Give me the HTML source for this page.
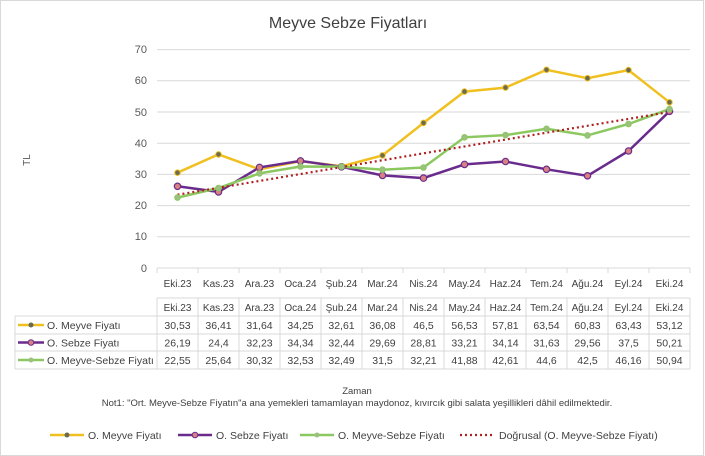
<!DOCTYPE html><html><head><meta charset="utf-8"><style>body{margin:0;background:#fff}svg{display:block;font-family:"Liberation Sans",sans-serif}</style></head><body>
<svg width="705" height="456" viewBox="0 0 705 456">
<rect x="0.5" y="0.5" width="703" height="455" fill="#fff" stroke="#d9d9d9"/>
<text x="348" y="28" font-size="16" fill="#404040" text-anchor="middle">Meyve Sebze Fiyatları</text>
<g stroke="#d9d9d9" stroke-width="1">
<line x1="157" x2="690" y1="49.6" y2="49.6"/><line x1="157" x2="690" y1="80.8" y2="80.8"/><line x1="157" x2="690" y1="112" y2="112"/><line x1="157" x2="690" y1="143.2" y2="143.2"/><line x1="157" x2="690" y1="174.4" y2="174.4"/><line x1="157" x2="690" y1="205.6" y2="205.6"/><line x1="157" x2="690" y1="236.8" y2="236.8"/><line x1="157" x2="690" y1="268" y2="268"/>
</g>
<g font-size="11" fill="#595959" text-anchor="end">
<text x="147" y="53">70</text><text x="147" y="84">60</text><text x="147" y="116">50</text><text x="147" y="147">40</text><text x="147" y="178">30</text><text x="147" y="209">20</text><text x="147" y="240">10</text><text x="147" y="272">0</text></g>
<text x="30" y="160" font-size="10" fill="#595959" transform="rotate(-90 30 160)" text-anchor="middle">TL</text>
<g font-size="10" fill="#404040" text-anchor="middle">
<text x="177.5" y="287">Eki.23</text><text x="218.5" y="287">Kas.23</text><text x="259.5" y="287">Ara.23</text><text x="300.5" y="287">Oca.24</text><text x="341.5" y="287">Şub.24</text><text x="382.5" y="287">Mar.24</text><text x="423.5" y="287">Nis.24</text><text x="464.5" y="287">May.24</text><text x="505.5" y="287">Haz.24</text><text x="546.5" y="287">Tem.24</text><text x="587.5" y="287">Ağu.24</text><text x="628.5" y="287">Eyl.24</text><text x="669.5" y="287">Eki.24</text></g>
<g stroke="#d9d9d9" fill="none">
<path d="M157 268v5M198 268v5M239 268v5M280 268v5M321 268v5M362 268v5M403 268v5M444 268v5M485 268v5M526 268v5M567 268v5M608 268v5M649 268v5M690 268v5"/>
<path d="M157 298h533M15 316h675M15 334h675M15 351h675M15 369h675M15 316v53M157 298v71M690 298v71"/>
<path d="M198 298v71M239 298v71M280 298v71M321 298v71M362 298v71M403 298v71M444 298v71M485 298v71M526 298v71M567 298v71M608 298v71M649 298v71"/>
</g>
<polyline fill="none" stroke="#f0c020" stroke-width="2.5" points="177.5,172.7 218.5,154.4 259.5,169.3 300.5,161.1 341.5,166.3 382.5,155.4 423.5,122.9 464.5,91.6 505.5,87.6 546.5,69.8 587.5,78.2 628.5,70.1 669.5,102.3"/>
<polyline fill="none" stroke="#6a2c8c" stroke-width="2.5" points="177.5,186.3 218.5,191.9 259.5,167.4 300.5,160.9 341.5,166.8 382.5,175.4 423.5,178.1 464.5,164.4 505.5,161.5 546.5,169.3 587.5,175.8 628.5,151 669.5,111.3"/>
<polyline fill="none" stroke="#8cc860" stroke-width="2.5" points="177.5,197.6 218.5,188 259.5,173.4 300.5,166.5 341.5,166.6 382.5,169.7 423.5,167.5 464.5,137.3 505.5,135.1 546.5,128.8 587.5,135.4 628.5,124 669.5,109.1"/>
<line x1="177.5" y1="194.7" x2="669.5" y2="112" stroke="#b02020" stroke-width="2.2" stroke-dasharray="2 3"/>
<g fill="#6b6b50" stroke="#f0c020" stroke-width="1"><circle cx="177.5" cy="172.7" r="2.8"/><circle cx="218.5" cy="154.4" r="2.8"/><circle cx="259.5" cy="169.3" r="2.8"/><circle cx="300.5" cy="161.1" r="2.8"/><circle cx="341.5" cy="166.3" r="2.8"/><circle cx="382.5" cy="155.4" r="2.8"/><circle cx="423.5" cy="122.9" r="2.8"/><circle cx="464.5" cy="91.6" r="2.8"/><circle cx="505.5" cy="87.6" r="2.8"/><circle cx="546.5" cy="69.8" r="2.8"/><circle cx="587.5" cy="78.2" r="2.8"/><circle cx="628.5" cy="70.1" r="2.8"/><circle cx="669.5" cy="102.3" r="2.8"/></g>
<g fill="#d98080" stroke="#6a2c8c" stroke-width="1.2"><circle cx="177.5" cy="186.3" r="3.2"/><circle cx="218.5" cy="191.9" r="3.2"/><circle cx="259.5" cy="167.4" r="3.2"/><circle cx="300.5" cy="160.9" r="3.2"/><circle cx="341.5" cy="166.8" r="3.2"/><circle cx="382.5" cy="175.4" r="3.2"/><circle cx="423.5" cy="178.1" r="3.2"/><circle cx="464.5" cy="164.4" r="3.2"/><circle cx="505.5" cy="161.5" r="3.2"/><circle cx="546.5" cy="169.3" r="3.2"/><circle cx="587.5" cy="175.8" r="3.2"/><circle cx="628.5" cy="151" r="3.2"/><circle cx="669.5" cy="111.3" r="3.2"/></g>
<g fill="#9cc080" stroke="#8cc860"><circle cx="177.5" cy="197.6" r="2.8"/><circle cx="218.5" cy="188" r="2.8"/><circle cx="259.5" cy="173.4" r="2.8"/><circle cx="300.5" cy="166.5" r="2.8"/><circle cx="341.5" cy="166.6" r="2.8"/><circle cx="382.5" cy="169.7" r="2.8"/><circle cx="423.5" cy="167.5" r="2.8"/><circle cx="464.5" cy="137.3" r="2.8"/><circle cx="505.5" cy="135.1" r="2.8"/><circle cx="546.5" cy="128.8" r="2.8"/><circle cx="587.5" cy="135.4" r="2.8"/><circle cx="628.5" cy="124" r="2.8"/><circle cx="669.5" cy="109.1" r="2.8"/></g>
<g font-size="10.5" fill="#404040" text-anchor="middle">
<text x="177.5" y="311" font-size="10">Eki.23</text><text x="218.5" y="311" font-size="10">Kas.23</text><text x="259.5" y="311" font-size="10">Ara.23</text><text x="300.5" y="311" font-size="10">Oca.24</text><text x="341.5" y="311" font-size="10">Şub.24</text><text x="382.5" y="311" font-size="10">Mar.24</text><text x="423.5" y="311" font-size="10">Nis.24</text><text x="464.5" y="311" font-size="10">May.24</text><text x="505.5" y="311" font-size="10">Haz.24</text><text x="546.5" y="311" font-size="10">Tem.24</text><text x="587.5" y="311" font-size="10">Ağu.24</text><text x="628.5" y="311" font-size="10">Eyl.24</text><text x="669.5" y="311" font-size="10">Eki.24</text>
<text x="177.5" y="329">30,53</text><text x="218.5" y="329">36,41</text><text x="259.5" y="329">31,64</text><text x="300.5" y="329">34,25</text><text x="341.5" y="329">32,61</text><text x="382.5" y="329">36,08</text><text x="423.5" y="329">46,5</text><text x="464.5" y="329">56,53</text><text x="505.5" y="329">57,81</text><text x="546.5" y="329">63,54</text><text x="587.5" y="329">60,83</text><text x="628.5" y="329">63,43</text><text x="669.5" y="329">53,12</text>
<text x="177.5" y="346.5">26,19</text><text x="218.5" y="346.5">24,4</text><text x="259.5" y="346.5">32,23</text><text x="300.5" y="346.5">34,34</text><text x="341.5" y="346.5">32,44</text><text x="382.5" y="346.5">29,69</text><text x="423.5" y="346.5">28,81</text><text x="464.5" y="346.5">33,21</text><text x="505.5" y="346.5">34,14</text><text x="546.5" y="346.5">31,63</text><text x="587.5" y="346.5">29,56</text><text x="628.5" y="346.5">37,5</text><text x="669.5" y="346.5">50,21</text>
<text x="177.5" y="364">22,55</text><text x="218.5" y="364">25,64</text><text x="259.5" y="364">30,32</text><text x="300.5" y="364">32,53</text><text x="341.5" y="364">32,49</text><text x="382.5" y="364">31,5</text><text x="423.5" y="364">32,21</text><text x="464.5" y="364">41,88</text><text x="505.5" y="364">42,61</text><text x="546.5" y="364">44,6</text><text x="587.5" y="364">42,5</text><text x="628.5" y="364">46,16</text><text x="669.5" y="364">50,94</text>
</g>
<g font-size="10.5" fill="#404040">
<line x1="18" x2="44" y1="325" y2="325" stroke="#f0c020" stroke-width="2.5"/><circle cx="31" cy="325" r="2.5" fill="#6b6b50"/><text x="47" y="329">O. Meyve Fiyatı</text>
<line x1="18" x2="44" y1="342.5" y2="342.5" stroke="#6a2c8c" stroke-width="2.5"/><circle cx="31" cy="342.5" r="2.8" fill="#d98080" stroke="#6a2c8c"/><text x="47" y="346.5">O. Sebze Fiyatı</text>
<line x1="18" x2="44" y1="360" y2="360" stroke="#8cc860" stroke-width="2.5"/><circle cx="31" cy="360" r="2.5" fill="#9cc080"/><text x="47" y="364">O. Meyve-Sebze Fiyatı</text>
</g>
<text x="357" y="394" font-size="9.5" fill="#404040" text-anchor="middle">Zaman</text>
<text x="357" y="406" font-size="9.5" fill="#404040" text-anchor="middle">Not1: "Ort. Meyve-Sebze Fiyatın"a ana yemekleri tamamlayan maydonoz, kıvırcık gibi salata yeşillikleri dâhil edilmektedir.</text>
<g font-size="10.5" fill="#404040">
<line x1="50" x2="84" y1="435" y2="435" stroke="#f0c020" stroke-width="2.5"/><circle cx="67" cy="435" r="2.5" fill="#6b6b50"/><text x="88" y="439">O. Meyve Fiyatı</text>
<line x1="178" x2="212" y1="435" y2="435" stroke="#6a2c8c" stroke-width="2.5"/><circle cx="195" cy="435" r="2.8" fill="#d98080" stroke="#6a2c8c"/><text x="216" y="439">O. Sebze Fiyatı</text>
<line x1="300" x2="334" y1="435" y2="435" stroke="#8cc860" stroke-width="2.5"/><circle cx="317" cy="435" r="2.5" fill="#9cc080"/><text x="338" y="439">O. Meyve-Sebze Fiyatı</text>
<line x1="460" x2="495" y1="435" y2="435" stroke="#b02020" stroke-width="2.2" stroke-dasharray="2 3"/><text x="499" y="439">Doğrusal (O. Meyve-Sebze Fiyatı)</text>
</g>
</svg></body></html>
